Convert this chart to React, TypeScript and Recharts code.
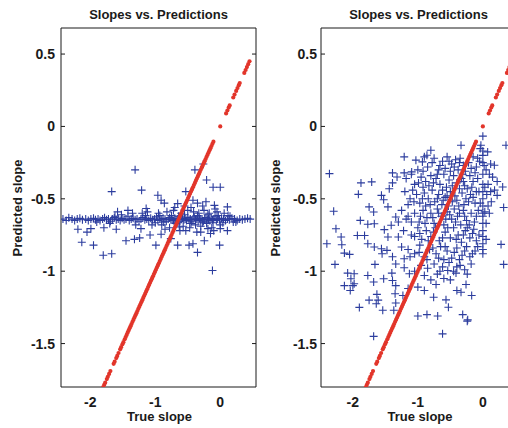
import { ScatterChart, Scatter, XAxis, YAxis } from "recharts"

// true slopes (x) — the red y = x reference dots
const TRUE_SLOPES = [
  -1.8, -1.785, -1.77, -1.745, -1.73, -1.71, -1.69, -1.64, -1.625, -1.6, -1.585, -1.565,
  -1.54, -1.525, -1.505, -1.49, -1.47, -1.455, -1.44, -1.425, -1.41, -1.395, -1.38, -1.365,
  -1.35, -1.335, -1.32, -1.305, -1.29, -1.275, -1.26, -1.245, -1.23, -1.215, -1.2, -1.185,
  -1.17, -1.155, -1.14, -1.125, -1.11, -1.095, -1.08, -1.065, -1.05, -1.035, -1.02, -1.005,
  -0.99, -0.975, -0.96, -0.945, -0.93, -0.915, -0.9, -0.885, -0.87, -0.855, -0.84, -0.825,
  -0.81, -0.795, -0.78, -0.765, -0.75, -0.735, -0.72, -0.705, -0.69, -0.675, -0.66, -0.645,
  -0.63, -0.615, -0.6, -0.585, -0.57, -0.555, -0.54, -0.525, -0.51, -0.495, -0.48, -0.465,
  -0.45, -0.435, -0.42, -0.405, -0.39, -0.375, -0.36, -0.345, -0.33, -0.315, -0.3, -0.285,
  -0.27, -0.255, -0.24, -0.225, -0.21, -0.195, -0.18, -0.165, -0.15, -0.135, -0.12, -0.105,
  0.0, 0.09, 0.11, 0.13, 0.145, 0.2, 0.22, 0.245, 0.265, 0.285, 0.3, 0.37, 0.39, 0.41, 0.43, 0.45,
]

// [true slope, predicted slope] — left model
const LEFT_PRED: [number, number][] = [
  [-1.31, -0.3], [-1.67, -0.45], [-1.21, -0.44], [-0.96, -0.475], [-0.39, -0.3], [-0.26, -0.26],
  [-0.21, -0.37], [-0.11, -0.42], [0.0, -0.42], [-0.53, -0.45], [-0.91, -0.51], [-0.86, -0.53],
  [-0.655, -0.533], [-0.42, -0.51], [-0.35, -0.53], [-0.22, -0.52], [-0.09, -0.545], [0.11, -0.556],
  [-1.42, -0.58], [-1.58, -0.59], [-1.14, -0.567], [-2.19, -0.71], [-2.05, -0.73], [-1.99, -0.706],
  [-2.13, -0.8], [-1.95, -0.82], [-1.79, -0.7], [-1.6, -0.71], [-1.8, -0.89], [-1.67, -0.88],
  [-1.45, -0.79], [-1.32, -0.78], [-1.24, -0.77], [-1.22, -0.706], [-1.08, -0.75], [-0.99, -0.82],
  [-0.91, -0.745], [-0.76, -0.775], [-0.655, -0.82], [-0.48, -0.82], [-0.42, -0.81], [-0.35, -0.87],
  [-0.245, -0.79], [-0.01, -0.82], [-0.12, -0.995], [0.0, -0.706], [0.11, -0.72], [-0.53, -0.72],
  [-0.63, -0.695], [-0.3, -0.73], [-0.19, -0.706],
  [-2.42, -0.64], [-2.37, -0.65], [-2.33, -0.63], [-2.28, -0.64], [-2.24, -0.65], [-2.2, -0.64],
  [-2.16, -0.635], [-2.12, -0.645], [-2.07, -0.64], [-2.03, -0.65], [-1.99, -0.64], [-1.95, -0.635],
  [-1.92, -0.645], [-1.88, -0.64], [-1.85, -0.65], [-1.81, -0.64], [-1.78, -0.63], [-1.75, -0.645],
  [-1.72, -0.64], [-1.69, -0.655], [-1.66, -0.64], [-1.63, -0.63], [-1.6, -0.645], [-1.57, -0.64],
  [-1.54, -0.65], [-1.51, -0.635], [-1.48, -0.645], [-1.45, -0.64], [-1.42, -0.62], [-1.4, -0.65],
  [-1.37, -0.64], [-1.34, -0.635], [-1.31, -0.645], [-1.28, -0.64], [-1.25, -0.655], [-1.22, -0.64],
  [-1.19, -0.63], [-1.16, -0.645], [-1.13, -0.64], [-1.1, -0.65], [-1.07, -0.635], [-1.04, -0.645],
  [-1.01, -0.64], [-0.98, -0.625], [-0.96, -0.65], [-0.93, -0.64], [-0.9, -0.645], [-0.88, -0.635],
  [-0.85, -0.64], [-0.83, -0.655], [-0.8, -0.64], [-0.78, -0.63], [-0.76, -0.645], [-0.74, -0.64],
  [-0.72, -0.65], [-0.7, -0.635], [-0.68, -0.645], [-0.66, -0.64], [-0.64, -0.62], [-0.62, -0.655],
  [-0.6, -0.64], [-0.58, -0.635], [-0.56, -0.645], [-0.54, -0.64], [-0.52, -0.65], [-0.5, -0.63],
  [-0.48, -0.645], [-0.46, -0.64], [-0.44, -0.655], [-0.42, -0.64], [-0.4, -0.625], [-0.38, -0.645],
  [-0.36, -0.64], [-0.34, -0.65], [-0.32, -0.635], [-0.3, -0.645], [-0.28, -0.64], [-0.26, -0.655],
  [-0.24, -0.64], [-0.22, -0.63], [-0.2, -0.645], [-0.18, -0.64], [-0.16, -0.65], [-0.14, -0.635],
  [-0.12, -0.645], [-0.1, -0.64], [-0.08, -0.62], [-0.06, -0.65], [-0.04, -0.64], [-0.01, -0.645],
  [0.02, -0.635], [0.05, -0.64], [0.08, -0.65], [0.11, -0.64], [0.14, -0.645], [0.18, -0.635],
  [0.22, -0.64], [0.26, -0.65], [0.3, -0.64], [0.34, -0.645], [0.38, -0.64], [0.42, -0.635], [0.46, -0.64],
  [-0.95, -0.6], [-0.9, -0.68], [-0.82, -0.59], [-0.78, -0.7], [-0.72, -0.58], [-0.69, -0.67],
  [-0.6, -0.6], [-0.57, -0.69], [-0.5, -0.58], [-0.47, -0.7], [-0.41, -0.59], [-0.38, -0.68],
  [-0.33, -0.6], [-0.3, -0.69], [-0.25, -0.58], [-0.21, -0.67], [-0.17, -0.6], [-0.13, -0.7],
  [-0.05, -0.59], [0.0, -0.68], [0.06, -0.6], [0.15, -0.62], [0.2, -0.66], [-1.2, -0.6],
  [-1.3, -0.68], [-1.52, -0.61], [-1.7, -0.67], [-1.05, -0.68], [-0.55, -0.55], [-0.45, -0.56],
  [-0.27, -0.55], [-0.62, -0.72], [-0.36, -0.73], [-0.15, -0.74], [-0.85, -0.71], [-1.12, -0.59],
  [-1.35, -0.6], [-0.7, -0.56], [-0.08, -0.57], [-0.1, -0.72],
  [-0.93, -0.615], [-0.87, -0.66], [-0.75, -0.615], [-0.65, -0.665], [-0.55, -0.61], [-0.45, -0.67],
  [-0.35, -0.615], [-0.27, -0.665], [-0.19, -0.61], [-0.11, -0.665], [-0.03, -0.615], [0.04, -0.665],
  [0.12, -0.615], [0.24, -0.66], [-1.0, -0.665], [-1.15, -0.615], [-1.62, -0.62], [-1.9, -0.66],
]

// [true slope, predicted slope] — right model
const RIGHT_PRED: [number, number][] = [
  [-2.36, -0.326], [-2.295, -0.586], [-2.26, -0.707], [-2.4, -0.81], [-2.275, -0.953], [-2.18, -0.764],
  [-2.17, -0.817], [-2.13, -0.875], [-2.05, -0.884], [-2.08, -1.013], [-1.98, -1.018], [-2.03, -1.052],
  [-2.13, -1.1], [-2.0, -1.1], [-1.98, -1.087], [-2.04, -1.133], [-1.9, -1.25], [-1.875, -0.39],
  [-1.915, -0.469], [-1.71, -0.383], [-1.75, -0.556], [-1.68, -0.591], [-1.885, -0.649], [-1.77, -0.676],
  [-1.67, -0.672], [-1.93, -0.753], [-1.82, -0.753], [-1.77, -0.81], [-1.67, -0.833], [-1.77, -1.03],
  [-1.68, -1.075], [-1.66, -0.953], [-1.63, -1.16], [-1.61, -1.2], [-1.75, -1.2], [-1.64, -1.225],
  [-1.54, -1.27], [-1.526, -1.052], [-1.4, -1.013], [-1.39, -1.064], [-1.34, -1.1], [-1.35, -1.156],
  [-1.34, -1.22], [-1.37, -1.27], [-1.68, -1.45], [-1.56, -0.476], [-1.526, -0.506], [-1.46, -0.556],
  [-1.44, -0.43], [-1.39, -0.39], [-1.39, -0.321], [-1.32, -0.349], [-1.21, -0.21], [-1.21, -0.321],
  [-1.095, -0.314], [-1.03, -0.233], [-0.93, -0.245], [-0.9, -0.21], [-0.8, -0.164], [-0.86, -0.199],
  [-1.516, -0.713], [-1.41, -0.683], [-1.34, -0.626], [-1.3, -0.764], [-1.46, -0.764], [-1.475, -0.856],
  [-1.55, -0.88], [-1.56, -0.845], [-1.39, -0.9], [-1.34, -0.95], [-1.25, -0.833], [-1.21, -0.914],
  [-1.21, -0.976], [-1.13, -1.018], [-1.23, -1.168], [-1.15, -1.12], [-1.0, -1.11], [-0.9, -1.133],
  [-1.0, -1.31], [-0.86, -1.3], [-0.695, -1.31], [-0.757, -1.18], [-0.72, -1.092], [-0.62, -1.433],
  [-0.567, -1.198], [-0.53, -1.249], [-0.54, -0.995], [-0.413, -1.013], [-0.4, -1.133], [-0.336, -1.145],
  [-0.259, -1.092], [-0.172, -1.168], [-0.31, -1.3], [-0.233, -1.336], [-0.24, -1.345], [0.28, -0.815],
  [0.32, -0.953], [0.32, -0.56], [0.356, -0.13], [0.305, -0.418], [0.22, -0.476], [0.177, -0.268],
  [0.074, -0.176], [0.0, -0.067], [-0.04, -0.153], [-0.336, -0.13], [-0.03, -0.13],
  [-0.75, -0.22], [-0.62, -0.24], [-0.55, -0.21], [-0.48, -0.26], [-0.42, -0.23], [-0.35, -0.22],
  [-0.3, -0.27], [-0.22, -0.25], [-0.15, -0.21], [-0.1, -0.28], [-0.05, -0.24], [-0.85, -0.28],
  [-0.68, -0.3], [-0.58, -0.29], [-0.38, -0.3], [-0.27, -0.31], [0.05, -0.3], [0.12, -0.26],
  [-1.0, -0.3], [-1.1, -0.33], [-1.18, -0.36], [-1.05, -0.4], [-0.95, -0.35], [-0.88, -0.38],
  [-0.8, -0.34], [-0.72, -0.36], [-0.66, -0.4], [-0.6, -0.33], [-0.52, -0.37], [-0.45, -0.34],
  [-0.4, -0.39], [-0.33, -0.36], [-0.28, -0.41], [-0.2, -0.34], [-0.15, -0.38], [-0.08, -0.36],
  [0.0, -0.33], [0.08, -0.4], [0.15, -0.35], [0.22, -0.38], [-0.92, -0.42], [-0.56, -0.42],
  [-0.24, -0.43], [-1.2, -0.45], [-1.12, -0.5], [-1.02, -0.47], [-0.97, -0.53], [-0.9, -0.46],
  [-0.84, -0.5], [-0.78, -0.44], [-0.74, -0.52], [-0.68, -0.47], [-0.63, -0.54], [-0.58, -0.49],
  [-0.5, -0.45], [-0.47, -0.52], [-0.43, -0.48], [-0.37, -0.55], [-0.32, -0.46], [-0.26, -0.5],
  [-0.19, -0.47], [-0.12, -0.53], [-0.06, -0.45], [0.0, -0.5], [0.06, -0.47], [0.13, -0.52],
  [0.18, -0.44], [-0.53, -0.55], [-0.88, -0.55], [-1.25, -0.58], [-1.15, -0.62], [-1.05, -0.6],
  [-0.98, -0.66], [-0.92, -0.58], [-0.86, -0.63], [-0.8, -0.6], [-0.75, -0.67], [-0.7, -0.57],
  [-0.64, -0.62], [-0.6, -0.68], [-0.55, -0.59], [-0.48, -0.64], [-0.44, -0.57], [-0.39, -0.62],
  [-0.34, -0.68], [-0.3, -0.58], [-0.25, -0.65], [-0.18, -0.6], [-0.13, -0.66], [-0.07, -0.58],
  [0.0, -0.62], [0.05, -0.67], [0.1, -0.6], [-1.3, -0.66], [-1.22, -0.72], [-1.1, -0.75],
  [-1.0, -0.7], [-0.94, -0.78], [-0.87, -0.72], [-0.8, -0.76], [-0.73, -0.7], [-0.67, -0.79],
  [-0.58, -0.73], [-0.5, -0.77], [-0.45, -0.7], [-0.38, -0.75], [-0.33, -0.8], [-0.27, -0.72],
  [-0.2, -0.77], [-0.14, -0.71], [-0.1, -0.79], [0.0, -0.72], [0.05, -0.78], [-1.15, -0.85],
  [-1.05, -0.88], [-0.97, -0.82], [-0.9, -0.9], [-0.82, -0.85], [-0.72, -0.88], [-0.65, -0.83],
  [-0.55, -0.86], [-0.48, -0.91], [-0.4, -0.84], [-0.32, -0.89], [-0.25, -0.83], [-0.2, -0.9],
  [-0.12, -0.86], [0.0, -0.85], [-0.6, -0.92], [-0.95, -0.96], [-0.85, -0.98], [-0.75, -0.95],
  [-0.7, -1.02], [-0.62, -0.97], [-0.52, -0.94], [-0.45, -1.0], [-0.35, -0.96], [-0.28, -0.99],
  [-0.18, -0.95], [-0.8, -1.06], [-1.05, -1.0], [-0.6, -1.05], [0.0, -0.17], [0.0, -0.2],
  [0.0, -0.25], [0.0, -0.4], [0.0, -0.45], [0.0, -0.55], [0.0, -0.6], [0.0, -0.67], [0.0, -0.76],
  [0.0, -0.81], [0.0, -0.88],
  [-0.78, -0.25], [-0.66, -0.27], [-0.52, -0.24], [-0.44, -0.28], [-0.36, -0.25], [-0.18, -0.29],
  [-0.08, -0.22], [0.02, -0.27], [-0.92, -0.31], [-0.7, -0.33], [-0.5, -0.31], [-0.31, -0.33],
  [-0.12, -0.32], [0.1, -0.33], [-1.08, -0.44], [-0.99, -0.39], [-0.83, -0.41], [-0.76, -0.39],
  [-0.62, -0.44], [-0.47, -0.41], [-0.36, -0.43], [-0.3, -0.38], [-0.17, -0.42], [-0.1, -0.45],
  [0.03, -0.42], [0.12, -0.45], [-1.15, -0.54], [-1.06, -0.52], [-0.93, -0.5], [-0.81, -0.54],
  [-0.7, -0.5], [-0.61, -0.51], [-0.55, -0.48], [-0.4, -0.51], [-0.29, -0.54], [-0.22, -0.52],
  [-0.15, -0.49], [-0.04, -0.53], [0.08, -0.55], [-1.18, -0.64], [-1.1, -0.66], [-0.96, -0.62],
  [-0.89, -0.67], [-0.77, -0.63], [-0.68, -0.6], [-0.57, -0.64], [-0.51, -0.61], [-0.42, -0.66],
  [-0.36, -0.6], [-0.28, -0.62], [-0.21, -0.68], [-0.1, -0.62], [0.03, -0.59], [-1.05, -0.76],
  [-0.97, -0.74], [-0.84, -0.79], [-0.76, -0.73], [-0.62, -0.77], [-0.54, -0.7], [-0.41, -0.78],
  [-0.3, -0.75], [-0.24, -0.7], [-0.16, -0.74], [-0.06, -0.75], [-1.12, -0.9], [-0.98, -0.87],
  [-0.86, -0.92], [-0.77, -0.84], [-0.68, -0.91], [-0.58, -0.83], [-0.44, -0.87], [-0.36, -0.92],
  [-0.28, -0.86], [-0.16, -0.88], [-0.08, -0.83], [-0.9, -1.03], [-0.66, -1.0], [-0.4, -0.97],
  [-0.24, -1.02], [-0.5, -1.06],
]

const X_TICKS = [-2, -1, 0]
const Y_TICKS = [-1.5, -1, -0.5, 0, 0.5]
const Y_DOMAIN: [number, number] = [-1.8, 0.68]
const LEFT_X_DOMAIN: [number, number] = [-2.45, 0.55]
const RIGHT_X_DOMAIN: [number, number] = [-2.49, 0.51]

const FONT = "'Liberation Sans', Arial, Helvetica, sans-serif"
const INK = "#1a1a1a"
const BLUE = "#2c3d9e"
const RED = "#e2352a"

const frame = { stroke: INK, strokeWidth: 1 }
const tickText = { fontSize: 14, fontWeight: 700, fill: INK, fontFamily: FONT }

// mirrored axes only draw the inward tick marks, no labels
const NoLabel = () => <g />

function PlusMark(props: any) {
  const { cx, cy } = props
  if (cx == null || cy == null) return <g />
  return (
    <path
      d={`M${cx - 4},${cy}H${cx + 4}M${cx},${cy - 4}V${cy + 4}`}
      stroke={BLUE}
      strokeWidth={1.1}
      fill="none"
    />
  )
}

function RedDot(props: any) {
  const { cx, cy } = props
  if (cx == null || cy == null) return <g />
  return <circle cx={cx} cy={cy} r={2.1} fill={RED} />
}

function Panel({
  preds,
  xDomain,
  left,
  yTickMargin,
}: {
  preds: [number, number][]
  xDomain: [number, number]
  left: number
  yTickMargin: number
}) {
  const blue = preds.map(([x, y]) => ({ x, y }))
  const red = TRUE_SLOPES.map((v) => ({ x: v, y: v }))
  const common = { type: "number" as const, allowDataOverflow: true }

  return (
    <div style={{ position: "absolute", left, top: 0 }}>
      <ScatterChart width={259} height={428} margin={{ top: 28, right: 4, bottom: 0, left: 15 }}>
        <XAxis
          {...common}
          dataKey="x"
          domain={xDomain}
          ticks={X_TICKS}
          height={41}
          tickLine={false}
          tickSize={0}
          tickMargin={10}
          axisLine={frame}
          tick={tickText}
        />
        <XAxis
          {...common}
          xAxisId="top"
          orientation="top"
          mirror
          domain={xDomain}
          ticks={X_TICKS}
          tick={NoLabel}
          tickSize={4}
          tickLine={frame}
          axisLine={frame}
        />
        <XAxis
          {...common}
          xAxisId="inner"
          orientation="bottom"
          mirror
          domain={xDomain}
          ticks={X_TICKS}
          tick={NoLabel}
          tickSize={4}
          tickLine={frame}
          axisLine={false}
        />
        <YAxis
          {...common}
          dataKey="y"
          domain={Y_DOMAIN}
          ticks={Y_TICKS}
          width={45}
          tickLine={false}
          tickSize={0}
          tickMargin={yTickMargin}
          axisLine={frame}
          tick={tickText}
        />
        <YAxis
          {...common}
          yAxisId="right"
          orientation="right"
          mirror
          domain={Y_DOMAIN}
          ticks={Y_TICKS}
          tick={NoLabel}
          tickSize={4}
          tickLine={frame}
          axisLine={frame}
        />
        <YAxis
          {...common}
          yAxisId="inner"
          orientation="left"
          mirror
          domain={Y_DOMAIN}
          ticks={Y_TICKS}
          tick={NoLabel}
          tickSize={4}
          tickLine={frame}
          axisLine={false}
        />
        <Scatter data={blue} shape={PlusMark} isAnimationActive={false} />
        <Scatter data={red} shape={RedDot} isAnimationActive={false} />
      </ScatterChart>
    </div>
  )
}

export default function App() {
  const label = { fontSize: 13, fontWeight: 700, fill: INK, fontFamily: FONT, textAnchor: "middle" as const }
  return (
    <div
      style={{
        position: "absolute",
        left: 0,
        top: 0,
        width: 508,
        height: 428,
        overflow: "hidden",
        background: "#fff",
      }}
    >
      <Panel preds={LEFT_PRED} xDomain={LEFT_X_DOMAIN} left={1} yTickMargin={6} />
      <Panel preds={RIGHT_PRED} xDomain={RIGHT_X_DOMAIN} left={261} yTickMargin={4} />
      <svg
        width={508}
        height={428}
        style={{ position: "absolute", left: 0, top: 0, pointerEvents: "none" }}
      >
        <text x={158.5} y={19} {...label}>Slopes vs. Predictions</text>
        <text x={418.5} y={19} {...label}>Slopes vs. Predictions</text>
        <text x={159.5} y={421} {...label}>True slope</text>
        <text x={420} y={421} {...label}>True slope</text>
        <text x={21.5} y={208} transform="rotate(-90 21.5 208)" {...label}>Predicted slope</text>
        <text x={279.5} y={208} transform="rotate(-90 279.5 208)" {...label}>Predicted slope</text>
      </svg>
    </div>
  )
}
